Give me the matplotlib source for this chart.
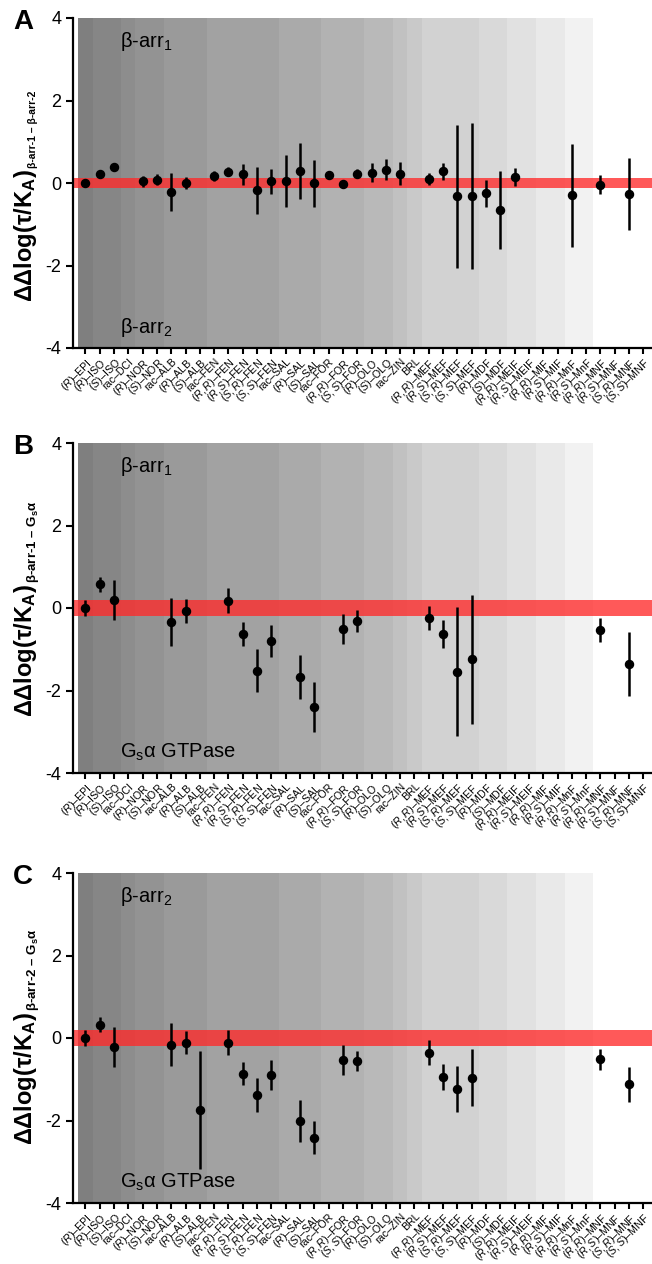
"""Bias factor comparison across beta2AR ligands (three stacked panels)."""

import re

import matplotlib
matplotlib.use("Agg")
import matplotlib.pyplot as plt
import numpy as np

nan = np.nan

LIGANDS = [
    "(R)–EPI", "(R)–ISO", "(S)–ISO", "rac–DCI", "(R)–NOR", "(S)–NOR",
    "rac–ALB", "(R)–ALB", "(S)–ALB", "rac–FEN", "(R,R)–FEN", "(R,S)–FEN",
    "(S,R)–FEN", "(S,S)–FEN", "rac–SAL", "(R)–SAL", "(S)–SAL", "rac–FOR",
    "(R,R)–FOR", "(S,S)–FOR", "(R)–OLO", "(S)–OLO", "rac–ZIN", "BRL",
    "(R,R)–MEF", "(R,S)–MEF", "(S,R)–MEF", "(S,S)–MEF", "(R)–MDF", "(S)–MDF",
    "(R,R)–MEIF", "(R,S)–MEIF", "(R,R)–MIF", "(R,S)–MIF", "(R,R)–MnF",
    "(R,S)–MnF", "(R,R)–MNF", "(R,S)–MNF", "(S,R)–MNF", "(S,S)–MNF",
]

# panel A: beta-arr-1 vs beta-arr-2
A_VAL = [0.00, 0.23, 0.40, nan, 0.04, 0.08, -0.22, 0.00, nan, 0.16,
         0.27, 0.21, -0.18, 0.04, 0.04, 0.30, -0.01, 0.19, -0.02, 0.23,
         0.25, 0.32, 0.23, nan, 0.10, 0.28, -0.32, -0.31, -0.25, -0.66,
         0.15, nan, nan, nan, -0.30, nan, -0.04, nan, -0.27, nan]
A_ERR = [0.08, 0.05, 0.05, nan, 0.14, 0.13, 0.46, 0.14, nan, 0.12,
         0.11, 0.25, 0.57, 0.30, 0.63, 0.68, 0.57, 0.06, 0.08, 0.12,
         0.23, 0.25, 0.27, nan, 0.14, 0.20, 1.73, 1.77, 0.33, 0.95,
         0.22, nan, nan, nan, 1.25, nan, 0.23, nan, 0.87, nan]

# panel B: beta-arr-1 vs Gs
B_VAL = [0.00, 0.58, 0.20, nan, nan, nan, -0.34, -0.08, nan, nan,
         0.18, -0.62, -1.52, -0.80, nan, -1.68, -2.40, nan, -0.51, -0.32,
         nan, nan, nan, nan, -0.24, -0.64, -1.54, -1.24, nan, nan,
         nan, nan, nan, nan, nan, nan, -0.54, nan, -1.36, nan]
B_ERR = [0.19, 0.18, 0.48, nan, nan, nan, 0.58, 0.29, nan, nan,
         0.30, 0.29, 0.52, 0.38, nan, 0.53, 0.60, nan, 0.36, 0.26,
         nan, nan, nan, nan, 0.30, 0.34, 1.56, 1.56, nan, nan,
         nan, nan, nan, nan, nan, nan, 0.29, nan, 0.78, nan]

# panel C: beta-arr-2 vs Gs
C_VAL = [0.00, 0.32, -0.22, nan, nan, nan, -0.16, -0.11, -1.74, nan,
         -0.11, -0.87, -1.38, -0.89, nan, -2.01, -2.42, nan, -0.53, -0.56,
         nan, nan, nan, nan, -0.36, -0.95, -1.24, -0.96, nan, nan,
         nan, nan, nan, nan, nan, nan, -0.52, nan, -1.12, nan]
C_ERR = [0.20, 0.18, 0.49, nan, nan, nan, 0.52, 0.28, 1.43, nan,
         0.30, 0.28, 0.42, 0.36, nan, 0.50, 0.40, nan, 0.36, 0.25,
         nan, nan, nan, nan, 0.30, 0.32, 0.55, 0.69, nan, nan,
         nan, nan, nan, nan, nan, nan, 0.26, nan, 0.42, nan]

# one gray per compound group, dark to white
BAND_GRAYS = ["#7f7f7f", "#868686", "#8d8d8d", "#939393", "#9a9a9a",
              "#a2a2a2", "#aaaaaa", "#b2b2b2", "#b9b9b9", "#c1c1c1",
              "#c9c9c9", "#d2d2d2", "#d9d9d9", "#e1e1e1", "#e9e9e9",
              "#f2f2f2", "#ffffff"]

PANELS = [
    dict(letter="A", val=A_VAL, err=A_ERR, band=0.11,
         sub="β-arr-1 – β-arr-2", sub_size=7.5,
         top="β-arr$_1$", bottom="β-arr$_2$", top_px=18, label_px=302),
    dict(letter="B", val=B_VAL, err=B_ERR, band=0.20,
         sub="β-arr-1 – G$_\\mathbf{s}$α", sub_size=9.5,
         top="β-arr$_1$", bottom="G$_\\mathrm{s}$α GTPase", top_px=443, label_px=717),
    dict(letter="C", val=C_VAL, err=C_ERR, band=0.20,
         sub="β-arr-2 – G$_\\mathbf{s}$α", sub_size=9.5,
         top="β-arr$_2$", bottom="G$_\\mathrm{s}$α GTPase", top_px=873, label_px=1145),
]

W, H = 652, 1264
AX_LEFT_PX = 72.5
AX_H_PX = 330

plt.rcParams.update({
    "font.family": ["Liberation Sans", "DejaVu Sans"],
    "mathtext.fontset": "custom",
    "mathtext.rm": "Liberation Sans",
    "mathtext.it": "Liberation Sans:italic",
    "mathtext.bf": "Liberation Sans:bold",
    "axes.unicode_minus": False,
})


def tick_label(s):
    m = re.match(r"\((.+)\)(–.*)", s)
    if m:
        return "($\\mathit{%s}$)%s" % (m.group(1), m.group(2))
    return s


def groups_of(labels):
    names = [s.split("–")[-1] for s in labels]
    runs = []
    start = 0
    for i in range(1, len(names) + 1):
        if i == len(names) or names[i] != names[start]:
            runs.append((start, i - 1))
            start = i
    return runs


fig = plt.figure(figsize=(W / 100, H / 100), dpi=100)
x = np.arange(len(LIGANDS))
runs = groups_of(LIGANDS)

for p in PANELS:
    y0 = 1 - (p["top_px"] + AX_H_PX) / H
    ax = fig.add_axes([AX_LEFT_PX / W, y0, 1 - AX_LEFT_PX / W, AX_H_PX / H])

    for (a, b), gray in zip(runs, BAND_GRAYS):
        ax.axvspan(a - 0.5, b + 0.5, color=gray, lw=0, zorder=0)
    ax.axhspan(-p["band"], p["band"], color="#ff2a2a", alpha=0.78, lw=0, zorder=1)

    val = np.array(p["val"], dtype=float)
    err = np.array(p["err"], dtype=float)
    ok = ~np.isnan(val)
    ax.errorbar(x[ok], val[ok], yerr=err[ok], fmt="o", color="black",
                ms=5.8, elinewidth=1.8, capsize=0, zorder=3)

    ax.set_xlim(-0.9, 39.6)
    ax.set_ylim(-4, 4)
    ax.set_yticks([-4, -2, 0, 2, 4])
    ax.set_xticks(x)
    ax.set_xticklabels([tick_label(s) for s in LIGANDS], rotation=45,
                       ha="right", va="top", rotation_mode="anchor", fontsize=7.7)
    ax.tick_params(axis="y", labelsize=13, length=5, width=1.5, pad=3)
    ax.tick_params(axis="x", length=4.5, width=1.5, pad=1.5)
    for side in ("top", "right"):
        ax.spines[side].set_visible(False)
    for side in ("left", "bottom"):
        ax.spines[side].set_linewidth(1.6)

    ax.text(2.45, 3.42, p["top"], fontsize=14.5, ha="left", va="center", zorder=4)
    ax.text(2.45, -3.5, p["bottom"], fontsize=14.5, ha="left", va="center", zorder=4)

    fig.text(23 / W, 1 - (p["top_px"] + 4) / H, p["letter"], fontsize=20,
             fontweight="bold", ha="center", va="center")

    # y label: big main part plus a small subscript drawn after it
    main = fig.text(32 / W, 1 - p["label_px"] / H, "ΔΔlog(τ/K$_\\mathbf{A}$)",
                    fontsize=17, fontweight="bold", rotation=90,
                    rotation_mode="anchor", ha="left", va="baseline")
    fig.canvas.draw()
    bb = main.get_window_extent()
    fig.text((32 + 4) / W, (bb.y1 + 1) / H, p["sub"], fontsize=p["sub_size"],
             fontweight="bold", rotation=90, rotation_mode="anchor",
             ha="left", va="baseline")

fig.savefig("out.png", dpi=100)
